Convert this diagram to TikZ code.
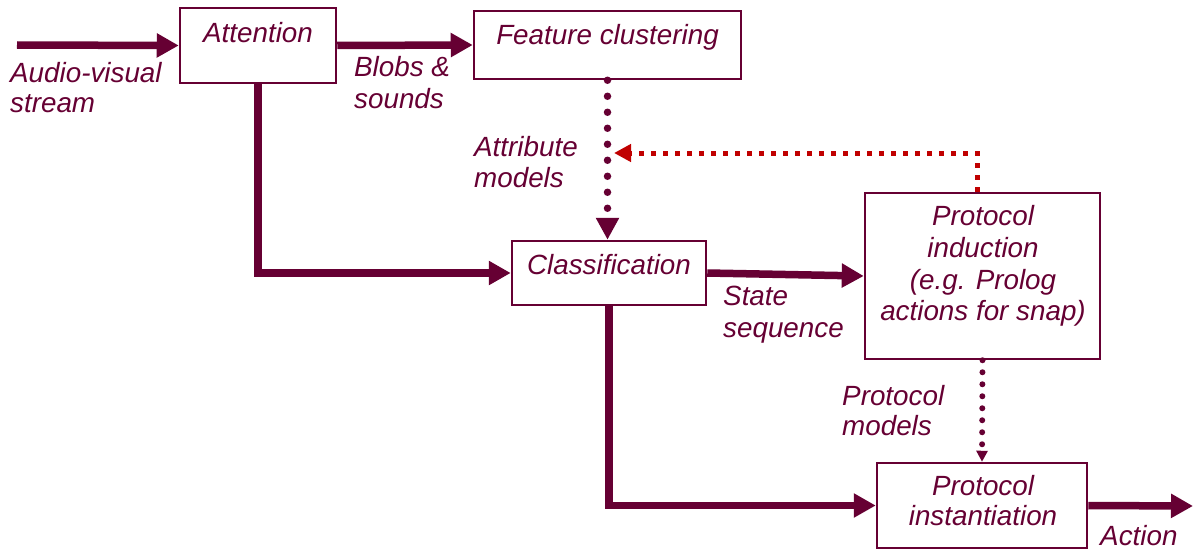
\documentclass[tikz,border=0pt]{standalone}
\usepackage{fontspec}
\setmainfont{Liberation Sans}
\usetikzlibrary{arrows.meta,calc}
\definecolor{wine}{RGB}{102,0,51}
\definecolor{fbred}{RGB}{192,0,0}
\begin{document}
\begin{tikzpicture}[x=1pt,y=-1pt,
  box/.style={draw=wine,line width=2.5pt,rectangle,inner sep=0pt,fill=white},
  lbl/.style={text=wine,inner sep=0pt,font=\fontsize{27.8}{31.5}\selectfont\itshape},
  lleft/.style={lbl,anchor=base west},
  lmid/.style={lbl,anchor=base},
  flow/.style={draw=wine,line width=7.5pt,-{Triangle[length=22pt,width=23pt]}},
  modelflow/.style={draw=wine,line width=7.5pt,line cap=round,dash pattern=on 0pt off 16pt,
    -{Triangle[length=22pt,width=22pt]}},
  protoflow/.style={draw=wine,line width=6pt,line cap=round,dash pattern=on 0pt off 12pt,
    -{Triangle[length=11pt,width=11pt]}},
  feedback/.style={draw=fbred,line width=5pt,dash pattern=on 5pt off 7pt,
    -{Triangle[length=17pt,width=17pt]}}
]
\useasboundingbox (0,0) rectangle (1193,551);

% processing stages
\node[box,minimum width=156pt,minimum height=75pt] (att) at (258,45.5) {};
\node[box,minimum width=267pt,minimum height=68pt] (feat) at (607.5,45) {};
\node[box,minimum width=194pt,minimum height=64pt] (cls) at (609,273) {};
\node[box,minimum width=235pt,minimum height=166pt] (pind) at (982.5,276) {};
\node[box,minimum width=210pt,minimum height=85pt] (pinst) at (982,505.5) {};

% free ends of the input and output streams
\coordinate (src) at (17,45);
\coordinate (actEnd) at (1193,506);
\coordinate (fbTip) at (614,153);

% main data flow
\draw[flow] (src) -- (att.west);
\draw[flow] (att.east) -- (feat.west);
\draw[flow] (att.south) |- (cls.west);
\draw[flow] (cls.east) -- (pind.west);
\draw[flow] (cls.south) |- (pinst.west);
\draw[flow] (pinst.east) -- (actEnd);

% learned models
\draw[modelflow] (feat.south) -- (feat.south |- cls.north);
\draw[protoflow] (pind.south) -- (pinst.north);

% feedback from protocol induction
\draw[feedback] ($(pind.north)+(-5.5,0)$) |- (fbTip);

% box texts
\node[lmid] (attT) at (258,42) {Attention};
\node[lmid] (featT) at (607.5,45) {Feature clustering};
\node[lmid] (clsT) at (609,274) {Classification};
\node[lmid] (pindA) at (983,225) {Protocol};
\node[lmid] (pindB) at (983,257) {induction};
\node[lmid] (pindC) at (983,289) {(e.g. Prolog};
\node[lmid] (pindD) at (983,320) {actions for snap)};
\node[lmid] (pinstA) at (983,495) {Protocol};
\node[lmid] (pinstB) at (983,525) {instantiation};

% connector labels
\node[lleft] (inA) at (10,82) {Audio-visual};
\node[lleft] (inB) at (10,112) {stream};
\node[lleft] (blobA) at (354,76) {Blobs \&};
\node[lleft] (blobB) at (354,108) {sounds};
\node[lleft] (attrA) at (474,156) {Attribute};
\node[lleft] (attrB) at (474,187) {models};
\node[lleft] (stA) at (723,305) {State};
\node[lleft] (stB) at (723,337) {sequence};
\node[lleft] (pmA) at (842,405) {Protocol};
\node[lleft] (pmB) at (842,435) {models};
\node[lleft] (actT) at (1100,545) {Action};
\end{tikzpicture}
\end{document}
